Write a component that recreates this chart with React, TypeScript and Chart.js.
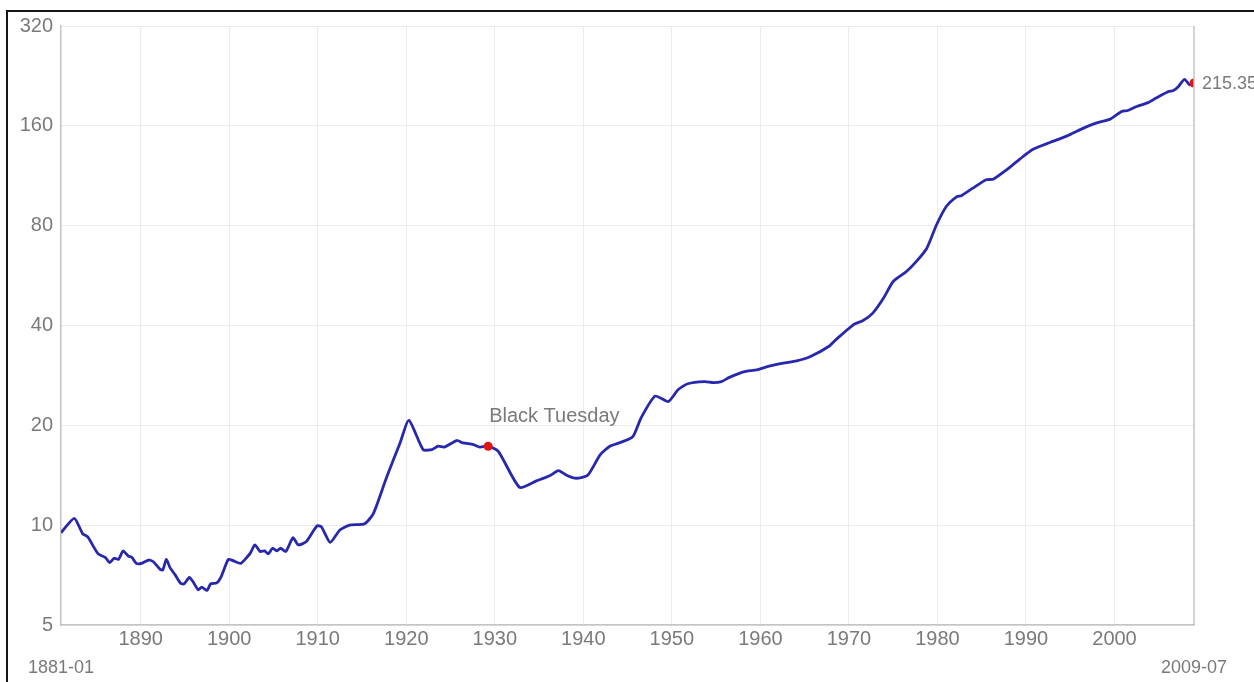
import React, { useEffect, useRef } from "react";
import { Chart, registerables } from "chart.js";

Chart.register(...registerables);

// Data (year as decimal, index value on a log scale)
const years: number[] = [
  1881.0, 1882.5, 1883.45, 1884.0, 1885.2, 1886.0, 1886.5, 1887.0, 1887.5, 1888.0,
  1888.6, 1889.0, 1889.5, 1890.1, 1890.9, 1891.4, 1892.2, 1892.5, 1892.9, 1893.3,
  1893.9, 1894.5, 1894.9, 1895.5, 1895.9, 1896.5, 1896.9, 1897.5, 1897.9, 1898.6,
  1899.1, 1899.9, 1900.5, 1901.3, 1902.0, 1902.4, 1902.9, 1903.5, 1904.0, 1904.4,
  1904.9, 1905.4, 1905.8, 1906.4, 1907.2, 1907.8, 1908.7, 1909.9, 1910.4, 1911.4,
  1912.5, 1913.6, 1915.3, 1916.3, 1917.8, 1919.3, 1920.3, 1921.9, 1922.9, 1923.6,
  1924.3, 1925.7, 1926.4, 1927.6, 1928.3, 1929.25, 1930.4, 1932.8, 1934.7, 1936.2,
  1937.2, 1938.1, 1939.2, 1940.5, 1941.9, 1943.0, 1944.3, 1945.6, 1946.5, 1948.1,
  1949.6, 1950.7, 1951.8, 1953.7, 1954.7, 1955.6, 1956.5, 1958.1, 1959.6, 1961.1,
  1962.6, 1964.1, 1965.6, 1967.8, 1968.6, 1970.5, 1971.6, 1972.7, 1973.9, 1975.0,
  1976.5, 1977.6, 1978.8, 1979.9, 1981.0, 1982.2, 1982.7, 1984.0, 1985.5, 1986.3,
  1987.8, 1989.3, 1990.8, 1992.7, 1994.6, 1996.5, 1997.9, 1999.5, 2000.8, 2001.5,
  2002.5, 2003.8, 2004.7, 2006.1, 2006.6, 2007.2, 2007.9, 2008.5, 2008.98,
];

const values: number[] = [
  9.49, 10.49, 9.41, 9.23, 8.19, 8.0, 7.71, 7.95, 7.89, 8.36,
  8.07, 8.0, 7.67, 7.67, 7.85, 7.77, 7.36, 7.33, 7.89, 7.46,
  7.08, 6.68, 6.65, 6.96, 6.76, 6.38, 6.5, 6.36, 6.65, 6.7,
  7.0, 7.89, 7.8, 7.67, 8.0, 8.25, 8.72, 8.33, 8.37, 8.19,
  8.52, 8.37, 8.52, 8.33, 9.17, 8.72, 8.92, 9.95, 9.9, 8.87,
  9.67, 10.0, 10.1, 10.86, 14.0, 17.7, 20.7, 16.9, 16.9, 17.3,
  17.2, 18.0, 17.7, 17.5, 17.2, 17.3, 16.7, 13.0, 13.6, 14.1,
  14.6, 14.15, 13.85, 14.15, 16.3, 17.3, 17.8, 18.5, 21.0, 24.5,
  23.6, 25.6, 26.7, 27.1, 26.9, 27.1, 27.9, 29.0, 29.4, 30.2,
  30.8, 31.3, 32.2, 34.7, 36.4, 40.2, 41.4, 43.6, 48.3, 54.3,
  58.2, 62.3, 68.4, 80.5, 91.4, 97.9, 98.5, 103.8, 110, 110.5,
  117.8, 127, 136, 142.5, 149, 157.5, 163, 167.6, 176.7, 178,
  183, 188, 194, 203, 204, 210, 221, 212.6, 215.35,
];

const xTicks: number[] = [1890, 1900, 1910, 1920, 1930, 1940, 1950, 1960, 1970, 1980, 1990, 2000];
const yTicks: number[] = [5, 10, 20, 40, 80, 160, 320];

const startLabel = "1881-01";
const endLabel = "2009-07";
const eventLabel = "Black Tuesday";
const eventIndex = 65;
const lastLabel = "215.35";

const FONT = "'Liberation Sans', Arial, sans-serif";
const TEXT = "#7a7a7a";

export default function App() {
  const ref = useRef<HTMLCanvasElement | null>(null);

  useEffect(() => {
    if (!ref.current) return;
    const lastIndex = values.length - 1;

    const annotate = {
      id: "annotate",
      afterDraw(chart: any) {
        const { ctx, chartArea } = chart;
        const xs = chart.scales.x;
        const meta = chart.getDatasetMeta(0);
        ctx.save();
        // right border of plot
        ctx.strokeStyle = "#c4c4c4";
        ctx.lineWidth = 1.5;
        ctx.beginPath();
        ctx.moveTo(chartArea.right, chartArea.top);
        ctx.lineTo(chartArea.right, chartArea.bottom);
        ctx.stroke();

        ctx.fillStyle = TEXT;
        ctx.textBaseline = "middle";
        ctx.textAlign = "center";
        ctx.font = `18px ${FONT}`;
        ctx.fillText(startLabel, xs.getPixelForValue(xs.min), chartArea.bottom + 43);
        ctx.fillText(endLabel, xs.getPixelForValue(xs.max), chartArea.bottom + 43);

        const ev = meta.data[eventIndex];
        ctx.textAlign = "left";
        ctx.font = `20px ${FONT}`;
        ctx.fillText(eventLabel, ev.x + 1, ev.y - 30);
        const last = meta.data[lastIndex];
        ctx.font = `18px ${FONT}`;
        ctx.fillText(lastLabel, last.x + 8, last.y + 1);
        ctx.restore();
      },
    };

    const chart = new Chart(ref.current, {
      type: "line",
      data: {
        datasets: [
          {
            data: years.map((y, i) => ({ x: y, y: values[i] })),
            borderColor: "#2828ad",
            borderWidth: 2.8,
            tension: 0.2,
            pointRadius: (c: any) => (c.dataIndex === eventIndex || c.dataIndex === lastIndex ? 4.5 : 0),
            pointBackgroundColor: "#e01515",
            pointBorderWidth: 0,
            fill: false,
          },
        ],
      },
      options: {
        responsive: false,
        animation: false,
        devicePixelRatio: 1,
        layout: { padding: { left: 0, top: 26, right: 60, bottom: 0 } },
        plugins: { legend: { display: false }, tooltip: { enabled: false } },
        scales: {
          x: {
            type: "linear",
            min: 1881,
            max: 2008.98,
            afterBuildTicks: (axis: any) => {
              axis.ticks = xTicks.map((v) => ({ value: v }));
            },
            afterFit: (axis: any) => {
              axis.height = 57;
            },
            ticks: {
              autoSkip: false,
              maxRotation: 0,
              padding: 2,
              color: TEXT,
              font: { size: 20, family: FONT },
              callback: (v: any) => String(v),
            },
            grid: { color: "#ebebeb", lineWidth: 1, drawTicks: false },
            border: { display: true, color: "#c4c4c4", width: 1.5 },
          },
          y: {
            type: "logarithmic",
            min: 5,
            max: 320,
            afterBuildTicks: (axis: any) => {
              axis.ticks = yTicks.map((v) => ({ value: v }));
            },
            afterFit: (axis: any) => {
              axis.width = 61;
            },
            ticks: {
              autoSkip: false,
              padding: 8,
              color: TEXT,
              font: { size: 20, family: FONT },
              callback: (v: any) => String(v),
            },
            grid: { color: "#ebebeb", lineWidth: 1, drawTicks: false },
            border: { display: true, color: "#c4c4c4", width: 1.5 },
          },
        },
      },
      plugins: [annotate],
    });
    return () => chart.destroy();
  }, []);

  return (
    <div style={{ position: "fixed", left: 0, top: 0, width: 1254, height: 682, background: "#fff", overflow: "hidden" }}>
      <div
        style={{
          position: "absolute",
          left: 6,
          top: 10,
          width: 1300,
          height: 700,
          borderLeft: "2px solid #151515",
          borderTop: "2px solid #151515",
        }}
      />
      <canvas ref={ref} width={1254} height={682} style={{ position: "absolute", left: 0, top: 0, width: 1254, height: 682 }} />
    </div>
  );
}
